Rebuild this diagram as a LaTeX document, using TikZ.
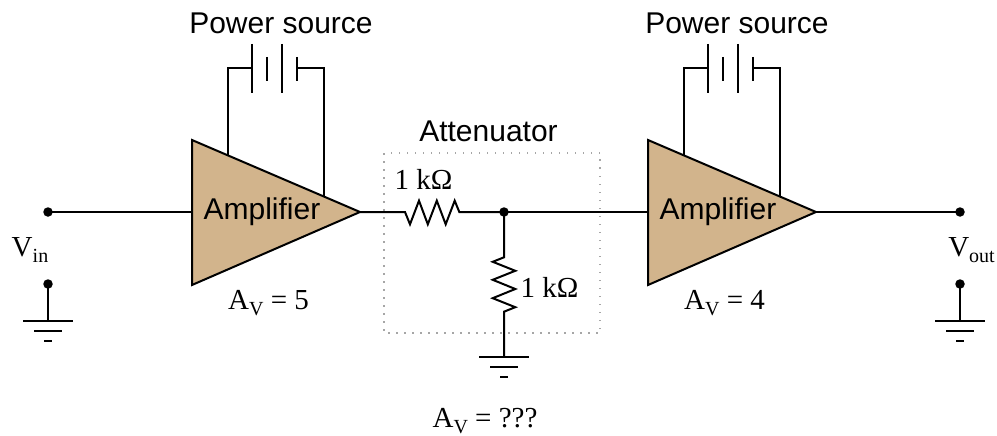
\documentclass[tikz,border=0pt]{standalone}
\usepackage{fontspec}
\setmainfont{Liberation Serif}
\setsansfont{Liberation Sans}
\usetikzlibrary{calc}
\definecolor{ampfill}{RGB}{210,180,140}
\tikzset{
  x=1pt,y=-1pt,
  wire/.style={line width=2pt,line cap=butt,line join=miter,black},
  amp/.style={fill=ampfill,draw=black,line width=2pt,line join=miter},
  dot/.style={circle,fill=black,inner sep=0pt,outer sep=0pt,minimum size=9.5pt},
  sanslabel/.style={font=\sffamily\fontsize{30}{30}\selectfont,inner sep=0pt,anchor=base},
  seriflabel/.style={font=\fontsize{29}{29}\selectfont,inner sep=0pt,anchor=base},
  box/.style={draw=gray!70,line width=1.5pt,dash pattern=on 1.5pt off 6.5pt},
}
\newcommand{\lowsub}[1]{\raisebox{-6pt}{\fontsize{20}{20}\selectfont #1}}
\newcommand{\gnd}[3]{% name, x, y of top plate
  \coordinate (#1) at (#2,#3);
  \draw[wire] ($(#1)+(-25,0)$) -- ($(#1)+(25,0)$);
  \draw[wire] ($(#1)+(-14,10.5)$) -- ($(#1)+(14,10.5)$);
  \draw[wire] ($(#1)+(-4,20.5)$) -- ($(#1)+(4,20.5)$);
}
\newcommand{\ampblock}[3]{% prefix, x offset, gain
  \begin{scope}[shift={(#2,0)}]
    \coordinate (#1a) at (192,140);
    \coordinate (#1b) at (192,285);
    \coordinate (#1in) at (192,212);
    \coordinate (#1out) at (360,212);
    \coordinate (#1pl) at (228,155.5);
    \coordinate (#1pr) at (324,196.5);
    \coordinate (#1c1) at (252,68);
    \coordinate (#1c4) at (297,68);
    \draw[wire] (#1pl) |- (#1c1);
    \draw[wire] (#1pr) |- (#1c4);
    \draw[amp] (#1a) -- (#1out) -- (#1b) -- cycle;
    \draw[wire] (252,44) -- (252,93);
    \draw[wire] (267,57) -- (267,81);
    \draw[wire] (282,44) -- (282,93);
    \draw[wire] (297,57) -- (297,81);
    \node[sanslabel] (#1src) at (281,34) {Power source};
    \node[sanslabel] (#1name) at (262,219) {Amplifier};
    \node[seriflabel] (#1gain) at (268.5,309) {A\lowsub{V} = #3};
  \end{scope}
}
\begin{document}
\begin{tikzpicture}
\useasboundingbox (0,0) rectangle (997,436);
\draw[box] (384,153) rectangle (600,333);
\ampblock{p}{0}{5}
\ampblock{q}{456}{4}
\node[dot] (vin) at (48,212) {};
\node[dot] (ving) at (48,284) {};
\node[dot] (vout) at (960,212) {};
\node[dot] (voutg) at (960,284) {};
\node[dot] (j) at (504,212) {};
\gnd{g1}{48}{320.5}
\gnd{g2}{960}{320.5}
\gnd{g3}{504}{356.5}
\draw[wire] (vin.center) -- (pin);
\draw[wire] (ving.center) -- (g1);
\draw[wire] (voutg.center) -- (g2);
\draw[wire] (qout) -- (vout.center);
\coordinate (r1a) at (405,212);
\coordinate (r1b) at (459.3,212);
\coordinate (r2a) at (504,257.3);
\coordinate (r2b) at (504,311.7);
\draw[wire] (pout) -- (r1a) -- (410,224.3) -- (419,200.7) -- (427.8,224.3) -- (436.8,200.7) -- (445.7,224.3) -- (454.7,200.7) -- (r1b) -- (j.center);
\draw[wire] (j.center) -- (qin);
\draw[wire] (j.center) -- (r2a) -- (492.7,261.8) -- (515.3,270.8) -- (492.7,279.8) -- (515.3,289) -- (492.7,298.2) -- (515.3,307.2) -- (r2b) -- (g3);
\node[sanslabel] (att) at (488.5,142) {Attenuator};
\node[seriflabel] (r1l) at (423.5,189) {1 kΩ};
\node[seriflabel] (r2l) at (549.5,297) {1 kΩ};
\node[seriflabel] (vinl) at (30,256) {V\lowsub{in}};
\node[seriflabel] (voutl) at (971.5,256) {V\lowsub{out}};
\node[seriflabel] (gain) at (485,427) {A\lowsub{V} = ???};
\end{tikzpicture}
\end{document}
